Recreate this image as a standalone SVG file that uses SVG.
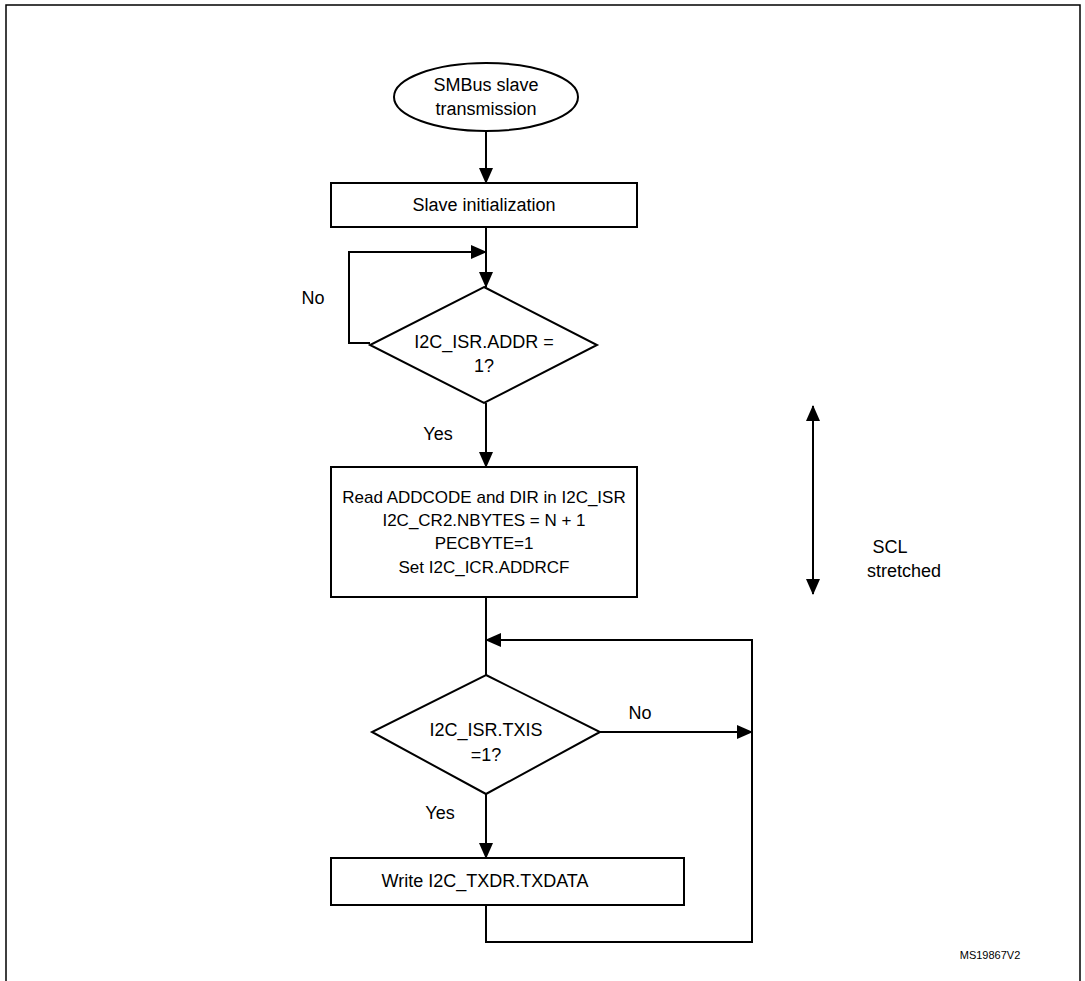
<svg xmlns="http://www.w3.org/2000/svg" width="1085" height="981" viewBox="0 0 1085 981">
<style>
.s{fill:#fff;stroke:#000;stroke-width:2}
.l{fill:none;stroke:#000;stroke-width:2}
text{font-family:"Liberation Sans",Arial,sans-serif;font-size:18px;fill:#000;text-anchor:middle;dominant-baseline:central}
</style>
<defs>
<marker id="b" markerWidth="16" markerHeight="14" refX="15" refY="7" orient="auto-start-reverse" markerUnits="userSpaceOnUse"><path d="M0,0L16,7L0,14z"/></marker></defs>
<rect x="6" y="5" width="1074" height="990" fill="none" stroke="#000" stroke-width="1.5"/>
<g id="connectors">
<path class="l" d="M486,130V183" marker-end="url(#b)"/>
<path class="l" d="M486,227V287" marker-end="url(#b)"/>
<path class="l" d="M370,343H349V252H486" marker-end="url(#b)"/>
<path class="l" d="M486,403V467" marker-end="url(#b)"/>
<path class="l" d="M486,597V675"/>
<path class="l" d="M600,732H752" marker-end="url(#b)"/>
<path class="l" d="M486,794V858" marker-end="url(#b)"/>
<path class="l" d="M486,905V942H752V640H486" marker-end="url(#b)"/>
<path class="l" d="M813,406V594" marker-start="url(#b)" marker-end="url(#b)"/>
</g>
<g id="start"><ellipse class="s" cx="486" cy="97" rx="92" ry="34"/><text x="486" y="85">SMBus slave</text><text x="486" y="109">transmission</text></g>
<g id="init"><rect class="s" x="331" y="183" width="306" height="44"/><text x="484" y="205">Slave initialization</text></g>
<g id="addr"><polygon class="s" points="484,287 597,345 484,403 370,345"/><text x="484" y="342">I2C_ISR.ADDR =</text><text x="484" y="366">1?</text></g>
<text x="313" y="298">No</text><text x="438" y="434">Yes</text>
<g id="read" style="font-size:17px"><rect class="s" x="331" y="467" width="306" height="130"/>
<text x="484" y="497" style="font-size:17px">Read ADDCODE and DIR in I2C_ISR</text><text x="484" y="520" style="font-size:17px">I2C_CR2.NBYTES = N + 1</text><text x="484" y="543" style="font-size:17px">PECBYTE=1</text><text x="484" y="567" style="font-size:17px">Set I2C_ICR.ADDRCF</text></g>
<g id="txis"><polygon class="s" points="486,675 600,732 486,794 372,732"/><text x="486" y="730">I2C_ISR.TXIS</text><text x="486" y="755">=1?</text></g>
<text x="640" y="713">No</text><text x="440" y="813">Yes</text>
<g id="write"><rect class="s" x="331" y="858" width="353" height="47"/><text x="485" y="881">Write I2C_TXDR.TXDATA</text></g>
<g id="scl"><text x="890" y="547">SCL</text><text x="904" y="571">stretched</text></g>
<text x="990" y="955" style="font-size:11px">MS19867V2</text>
</svg>
